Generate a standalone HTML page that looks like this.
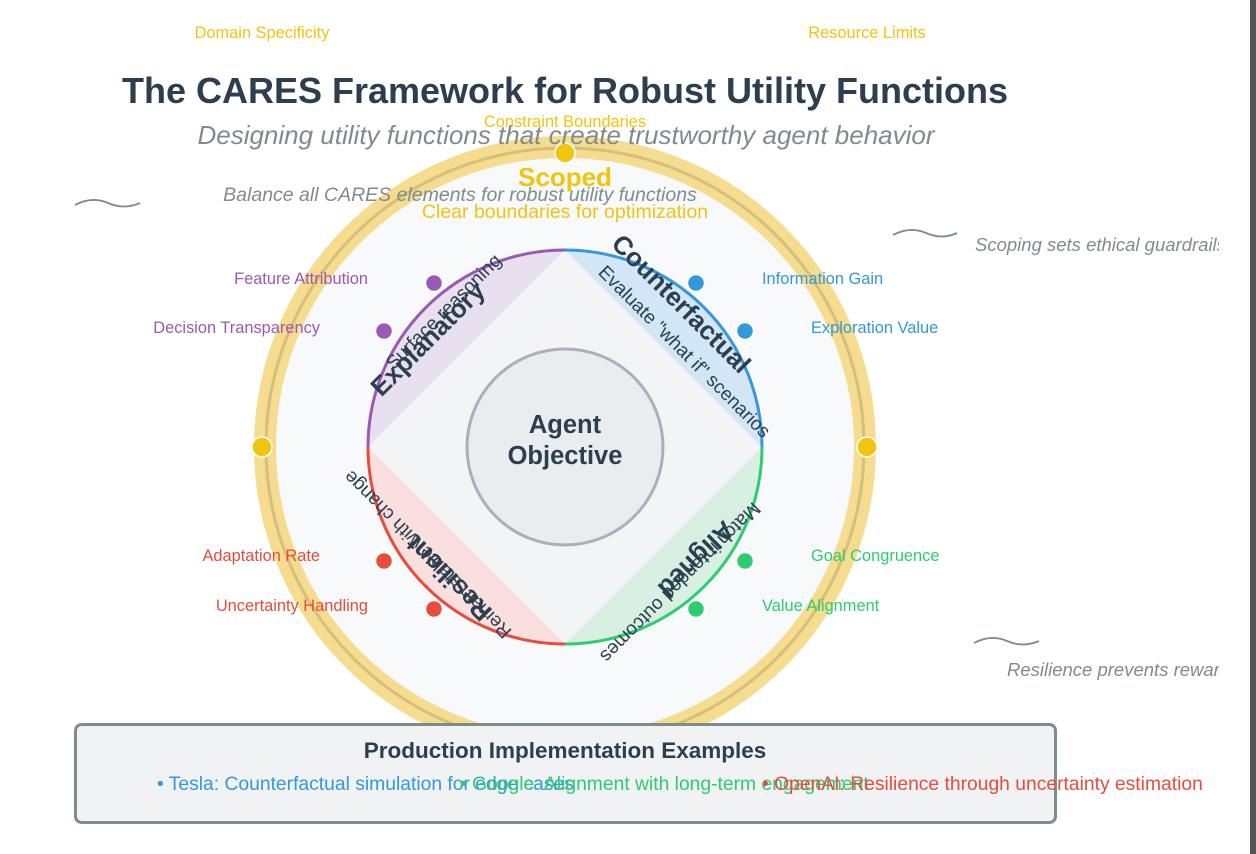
<!DOCTYPE html>
<html><head><style>
html,body{margin:0;padding:0;background:#fff;}
body{width:1256px;height:854px;overflow:hidden;position:relative;font-family:"Liberation Sans",sans-serif;}
</style></head><body>
<svg width="1256" height="854" viewBox="0 0 1256 854" style="position:absolute;left:0;top:0" font-family="Liberation Sans, sans-serif">
<defs><clipPath id="cl"><rect x="0" y="0" width="1219" height="854"/></clipPath></defs>
<rect x="1250" y="0" width="6" height="854" fill="#555"/>
<circle cx="565" cy="447" r="300" fill="#f7f9fa" stroke="#f5dc8f" stroke-width="22"/>
<circle cx="565" cy="447" r="299" fill="none" stroke="#cdb878" stroke-width="3" opacity="0.8"/>
<path d="M368 447 A197 197 0 0 1 565 250 Z" fill="#e9e0ef"/>
<path d="M565 250 A197 197 0 0 1 762 447 Z" fill="#d3e6f7"/>
<path d="M762 447 A197 197 0 0 1 565 644 Z" fill="#d7f0e1"/>
<path d="M565 644 A197 197 0 0 1 368 447 Z" fill="#f9e0de"/>
<polygon points="565,250 762,447 565,644 368,447" fill="#f3f4f6"/>
<path d="M368 447 A197 197 0 0 1 565 250" fill="none" stroke="#9b59b6" stroke-width="3"/>
<path d="M565 250 A197 197 0 0 1 762 447" fill="none" stroke="#3498db" stroke-width="3"/>
<path d="M762 447 A197 197 0 0 1 565 644" fill="none" stroke="#2ecc71" stroke-width="3"/>
<path d="M565 644 A197 197 0 0 1 368 447" fill="none" stroke="#e74c3c" stroke-width="3"/>
<circle cx="565" cy="447" r="98" fill="#eaecef" stroke="#aab0b8" stroke-width="3"/>
<text x="565" y="433" text-anchor="middle" font-size="25.5" font-weight="bold" fill="#2c3e50">Agent</text>
<text x="565" y="464" text-anchor="middle" font-size="25.5" font-weight="bold" fill="#2c3e50">Objective</text>
<text transform="translate(675,310) rotate(45)" text-anchor="middle" font-size="26" font-weight="bold" fill="#2c3e50">Counterfactual</text>
<text transform="translate(680,356) rotate(45)" text-anchor="middle" font-size="19" fill="#2c3e50">Evaluate "what if" scenarios</text>
<text transform="translate(434,345) rotate(-45)" text-anchor="middle" font-size="26" font-weight="bold" fill="#2c3e50">Explanatory</text>
<text transform="translate(448,316) rotate(-45)" text-anchor="middle" font-size="19" fill="#2c3e50">Surface reasoning</text>
<text transform="translate(690,553) rotate(135)" text-anchor="middle" font-size="26" font-weight="bold" fill="#2c3e50">Aligned</text>
<text transform="translate(676,578) rotate(135)" text-anchor="middle" font-size="19" fill="#2c3e50">Match intended outcomes</text>
<text transform="translate(455,572) rotate(225)" text-anchor="middle" font-size="26" font-weight="bold" fill="#2c3e50">Resilient</text>
<text transform="translate(432,550) rotate(225)" text-anchor="middle" font-size="19" fill="#2c3e50">Remain stable with change</text>
<g stroke="#fff" stroke-width="1.5">
<circle cx="434" cy="283" r="8.5" fill="#9b59b6"/><circle cx="384" cy="331" r="8.5" fill="#9b59b6"/>
<circle cx="696" cy="283" r="8.5" fill="#3498db"/><circle cx="745" cy="331" r="8.5" fill="#3498db"/>
<circle cx="384" cy="561" r="8.5" fill="#e74c3c"/><circle cx="434" cy="609" r="8.5" fill="#e74c3c"/>
<circle cx="745" cy="561" r="8.5" fill="#2ecc71"/><circle cx="696" cy="609" r="8.5" fill="#2ecc71"/>
<circle cx="565" cy="153" r="10" fill="#f1c40f"/><circle cx="262" cy="447" r="10" fill="#f1c40f"/><circle cx="867" cy="447" r="10" fill="#f1c40f"/>
</g>
<g font-size="16.4">
<text x="368" y="284" text-anchor="end" fill="#9b59b6">Feature Attribution</text>
<text x="320" y="333" text-anchor="end" fill="#9b59b6">Decision Transparency</text>
<text x="762" y="284" fill="#3498db">Information Gain</text>
<text x="811" y="333" fill="#3498db">Exploration Value</text>
<text x="320" y="561" text-anchor="end" fill="#e74c3c">Adaptation Rate</text>
<text x="368" y="611" text-anchor="end" fill="#e74c3c">Uncertainty Handling</text>
<text x="811" y="561" fill="#2ecc71">Goal Congruence</text>
<text x="762" y="611" fill="#2ecc71">Value Alignment</text>
<text x="262" y="38" text-anchor="middle" fill="#f1c40f">Domain Specificity</text>
<text x="867" y="38" text-anchor="middle" fill="#f1c40f">Resource Limits</text>
<text x="565" y="127" text-anchor="middle" fill="#f1c40f">Constraint Boundaries</text>
</g>
<text x="565" y="103" text-anchor="middle" font-size="36" font-weight="bold" fill="#2c3e50">The CARES Framework for Robust Utility Functions</text>
<text x="566" y="144" text-anchor="middle" font-size="26" font-style="italic" fill="#7f8c8d">Designing utility functions that create trustworthy agent behavior</text>
<text x="565" y="186" text-anchor="middle" font-size="26" font-weight="bold" fill="#f1c40f">Scoped</text>
<text x="460" y="201" text-anchor="middle" font-size="19.5" font-style="italic" fill="#7f8c8d">Balance all CARES elements for robust utility functions</text>
<text x="565" y="218" text-anchor="middle" font-size="19.5" fill="#f1c40f">Clear boundaries for optimization</text>
<g fill="none" stroke="#7f8c8d" stroke-width="1.8">
<path d="M75 205 Q92 196 108 203 T140 203"/>
<path d="M893 235 Q910 226 926 233 T957 233"/>
<path d="M974 643 Q991 634 1007 641 T1039 641"/>
</g>
<g clip-path="url(#cl)">
<text x="975" y="251" font-size="18.5" font-style="italic" fill="#7f8c8d">Scoping sets ethical guardrails</text>
<text x="1007" y="676" font-size="18.5" font-style="italic" fill="#7f8c8d">Resilience prevents reward hacking</text>
<rect x="75.5" y="724.5" width="980" height="98" rx="6" fill="#f0f2f4" stroke="#7f8c8d" stroke-width="3"/>
<text x="565" y="758" text-anchor="middle" font-size="22.5" font-weight="bold" fill="#2c3e50">Production Implementation Examples</text>
<text x="157" y="790" font-size="19.3" fill="#3498db">• Tesla: Counterfactual simulation for edge cases</text>
<text x="460" y="790" font-size="19.3" fill="#2ecc71">• Google: Alignment with long-term engagement</text>
<text x="762" y="790" font-size="19.3" fill="#e74c3c">• OpenAI: Resilience through uncertainty estimation</text>
</g>
</svg>
</body></html>
